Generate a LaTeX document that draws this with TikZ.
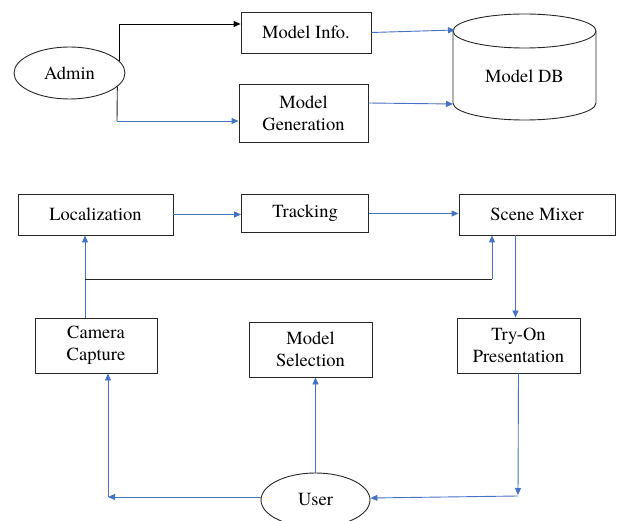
\documentclass[tikz,border=0pt]{standalone}
\usepackage{fontspec}
\setmainfont{texgyretermes}[Extension=.otf, UprightFont=*-regular, BoldFont=*-bold]
\usetikzlibrary{arrows.meta,shapes.geometric}
\definecolor{flowblue}{HTML}{4472C4}
\definecolor{edge}{HTML}{262626}
\begin{document}
\begin{tikzpicture}[x=1pt,y=-1pt,
  txt/.style={font=\rmfamily\fontsize{18.5}{22}\selectfont, align=center, inner sep=0pt},
  box/.style={txt, draw=edge, line width=0.9pt, rectangle},
  oval/.style={txt, draw=edge, line width=0.9pt, ellipse},
  bluearrow/.style={draw=flowblue, line width=0.9pt, -{Triangle[length=7pt,width=6pt]}},
  darkarrow/.style={draw=black, line width=0.9pt, -{Triangle[length=7pt,width=6pt]}},
  darkpath/.style={draw=edge, line width=0.9pt}]
\useasboundingbox (0,0) rectangle (621,521);

% --- model management ---
\node[oval, minimum width=111pt, minimum height=52pt] (admin) at (69.5,73) {Admin};
\node[box, minimum width=130pt, minimum height=41pt] (info) at (306,32.5) {Model Info.};
\node[box, minimum width=129pt, minimum height=58pt] (gen) at (303.5,113) {Model\\Generation};

% database cylinder
\draw[edge, line width=0.9pt] (453,31) -- (453,103)
  arc[start angle=180, end angle=360, x radius=71.5pt, y radius=17pt] -- (596,31);
\draw[edge, line width=0.9pt] (524.5,31) ellipse [x radius=71.5pt, y radius=17pt];
\node[txt] (db) at (524.5,76) {Model DB};
\coordinate (dbin1) at (455,30);
\coordinate (dbin2) at (453,104);

\draw[darkarrow] (admin.14) |- ([yshift=8.5pt]info.west);
\coordinate (k2) at (117,121);
\draw[darkpath] (admin.-16) -- (k2);
\draw[bluearrow] (k2) -- (k2 -| gen.west);
\draw[bluearrow] (info.east) -- (dbin1);
\draw[bluearrow] ([yshift=10pt]gen.east) -- (dbin2);

% --- try-on pipeline ---
\node[box, minimum width=155pt, minimum height=41pt] (loc) at (95.5,214.5) {Localization};
\node[box, minimum width=127pt, minimum height=38pt] (track) at (305,213) {Tracking};
\node[box, minimum width=156pt, minimum height=41pt] (mixer) at (537,214.5) {Scene Mixer};
\node[box, minimum width=122pt, minimum height=55pt] (cam) at (96,345.5) {Camera\\Capture};
\node[box, minimum width=123pt, minimum height=55pt] (sel) at (310.5,349.5) {Model\\Selection};
\node[box, minimum width=123pt, minimum height=55pt] (tryon) at (518.5,345.5) {Try-On\\Presentation};
\node[oval, minimum width=109pt, minimum height=54pt] (user) at (315.5,500) {User};

\draw[bluearrow] (loc.east) -- (loc.east -| track.west);
\draw[bluearrow] ([yshift=-0.5pt]track.east) -- ([yshift=-0.5pt]track.east -| mixer.west);
\draw[bluearrow] ([xshift=-11pt]cam.north) -- ([xshift=-11pt]cam.north |- loc.south);
\coordinate (j1) at (85,279);
\coordinate (j2) at (492,279);
\draw[darkpath] (j1) -- (j2);
\draw[bluearrow] (j2) -- (j2 |- mixer.south);
\draw[bluearrow] ([xshift=-21.5pt]mixer.south) -- ([xshift=-21.5pt]mixer.south |- tryon.north);
\draw[bluearrow] (user.north) -- (user.north |- sel.south);
\coordinate (c1) at (108,497);
\draw[bluearrow] ([yshift=3pt]user.west) -- (c1);
\draw[bluearrow] (c1) -- (c1 |- cam.south);
\coordinate (c2) at (518,495);
\coordinate (c3) at (518,496);
\draw[bluearrow] (tryon.south) -- (c2);
\draw[bluearrow] (c3) -- ([yshift=2pt]user.east);
\end{tikzpicture}
\end{document}
